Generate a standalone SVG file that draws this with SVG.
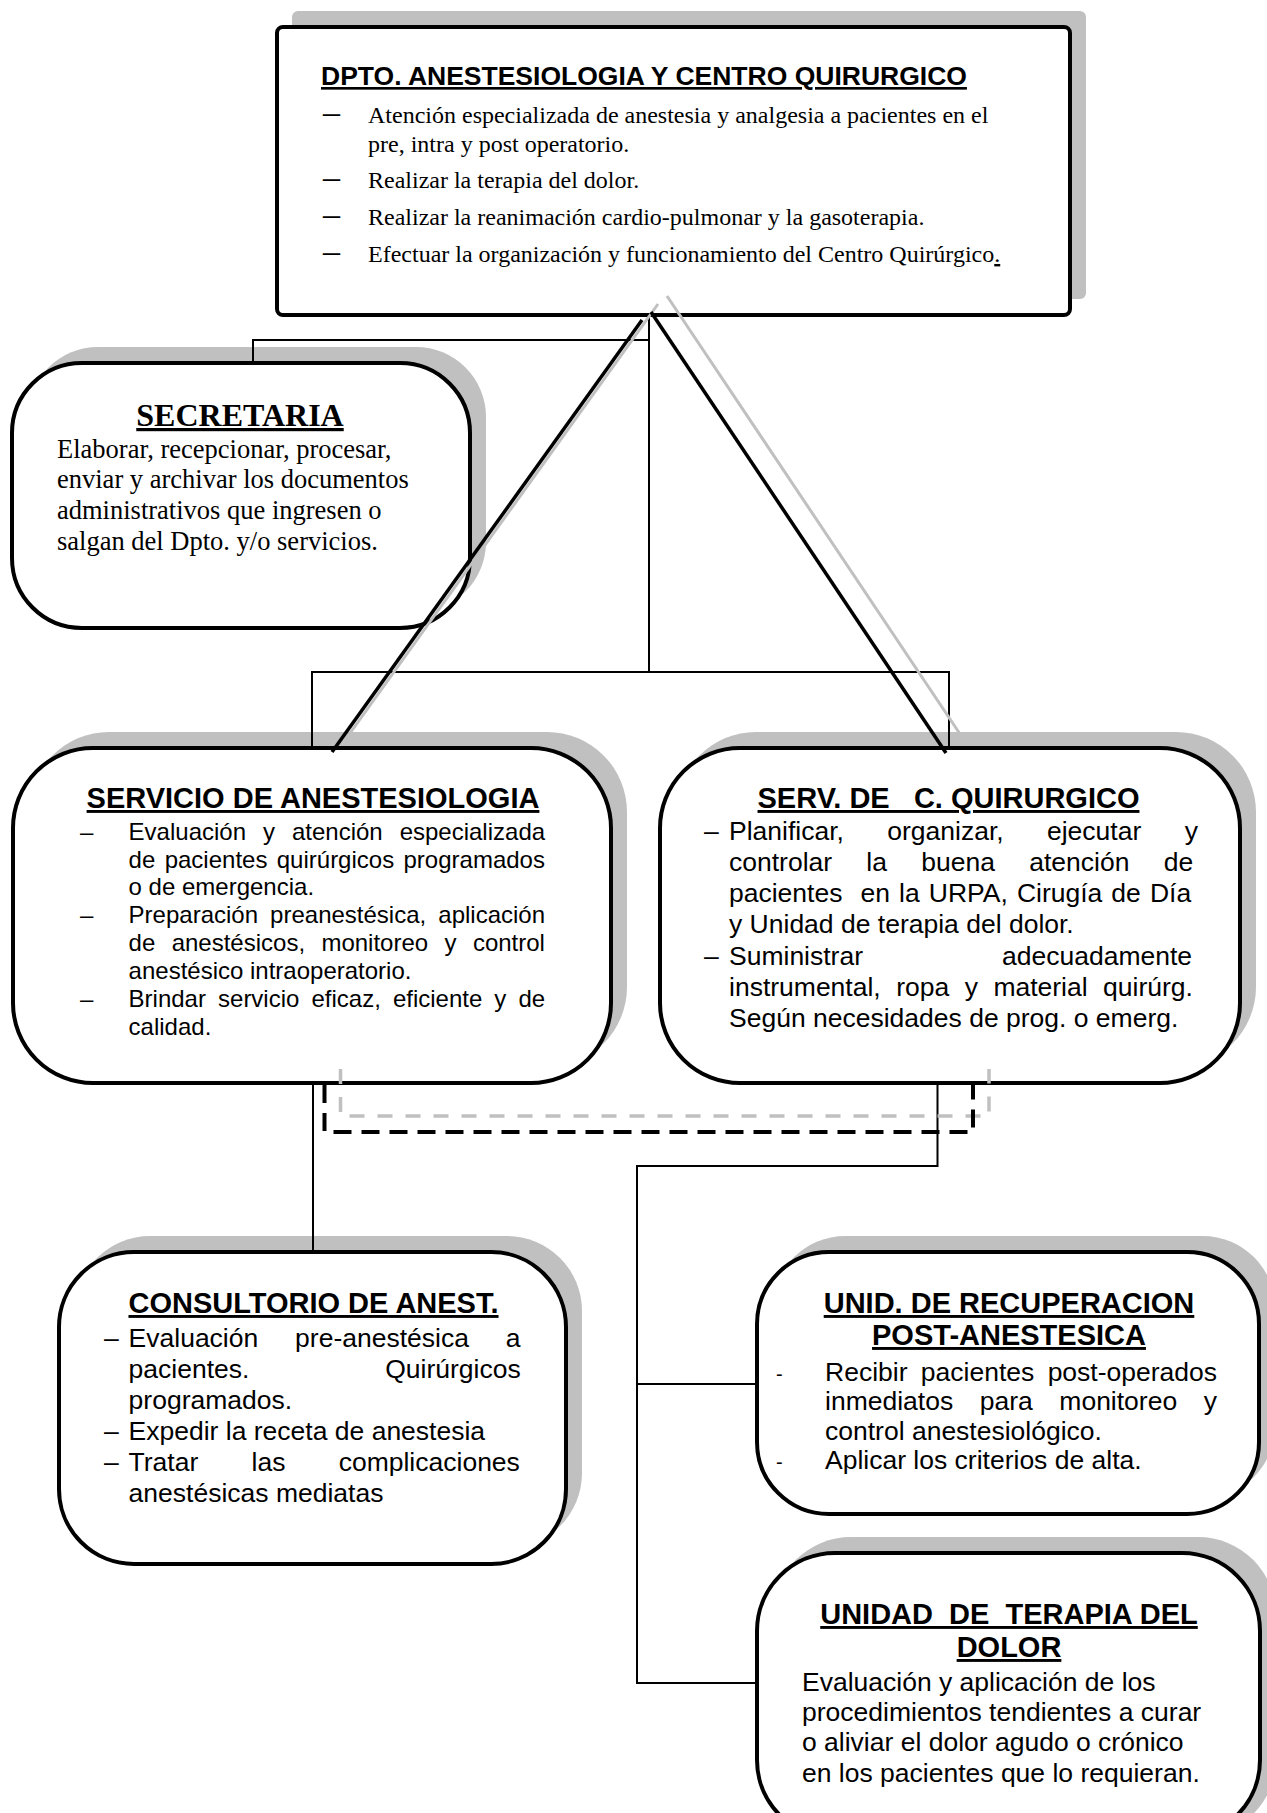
<svg xmlns="http://www.w3.org/2000/svg" width="1267" height="1813" viewBox="0 0 1267 1813">
<style>
.bg{fill:#fff}
.sh{fill:#c0c0c0}
.box{fill:#fff;stroke:#000;stroke-width:4}
.sans{font-family:"Liberation Sans",Arial,sans-serif;fill:#000}
.serif{font-family:"Liberation Serif","Times New Roman",serif;fill:#000}
.ttl{font-weight:bold;text-decoration:underline}
.t29{font-size:29px}
.s24{font-size:24px}
.s265{font-size:26.5px}
.ln{fill:none;stroke:#000;stroke-width:2}
.diag{fill:none;stroke:#000;stroke-width:3.5}
.gdiag{fill:none;stroke:#c0c0c0;stroke-width:3}
.dash{fill:none;stroke:#000;stroke-width:4;stroke-dasharray:18 10}
.gdash{fill:none;stroke:#c0c0c0;stroke-width:3.5;stroke-dasharray:15 13}
</style>
<rect class="bg" x="0" y="0" width="1267" height="1813"/>

<g id="dpto">
<rect class="sh" x="292" y="11" width="794" height="288" rx="6"/>
<rect class="box" x="277" y="27" width="793" height="288" rx="6"/>
<text class="sans ttl" x="321" y="85" font-size="26.5">DPTO. ANESTESIOLOGIA Y CENTRO QUIRURGICO</text>
<g class="serif" font-size="34">
<text x="323" y="123">–</text>
<text x="323" y="188">–</text>
<text x="323" y="225">–</text>
<text x="323" y="262">–</text>
</g>
<g class="serif" font-size="24">
<text x="368" y="123">Atención especializada de anestesia y analgesia a pacientes en el</text>
<text x="368" y="152">pre, intra y post operatorio.</text>
<text x="368" y="188">Realizar la terapia del dolor.</text>
<text x="368" y="225">Realizar la reanimación cardio-pulmonar y la gasoterapia.</text>
<text x="368" y="262">Efectuar la organización y funcionamiento del Centro Quirúrgico<tspan text-decoration="underline">.</tspan></text>
</g>
</g>

<g id="secretaria">
<rect class="sh" x="28" y="347" width="458" height="265" rx="70"/>
<rect class="box" x="12" y="363" width="458" height="265" rx="70"/>
<text class="serif ttl" x="240" y="426" font-size="32" text-anchor="middle">SECRETARIA</text>
<g class="serif" font-size="26.5">
<text x="57" y="458">Elaborar, recepcionar, procesar,</text>
<text x="57" y="488">enviar y archivar los documentos</text>
<text x="57" y="519">administrativos que ingresen o</text>
<text x="57" y="550">salgan del Dpto. y/o servicios.</text>
</g>
</g>

<g id="serv-anestesiologia">
<rect class="sh" x="29" y="732" width="598" height="335" rx="80"/>
<rect class="box" x="13" y="748" width="598" height="335" rx="80"/>
<text class="sans ttl t29" x="313" y="808" text-anchor="middle">SERVICIO DE ANESTESIOLOGIA</text>
<g class="sans s24">
<text x="80" y="840">–</text>
<text x="80" y="923">–</text>
<text x="80" y="1007">–</text>
<text x="128.6" y="840" word-spacing="10.3">Evaluación y atención especializada</text>
<text x="128.6" y="868" word-spacing="2.7">de pacientes quirúrgicos programados</text>
<text x="128.6" y="895">o de emergencia.</text>
<text x="128.6" y="923" word-spacing="5.45">Preparación preanestésica, aplicación</text>
<text x="128.6" y="951" word-spacing="9.7">de anestésicos, monitoreo y control</text>
<text x="128.6" y="979">anestésico intraoperatorio.</text>
<text x="128.6" y="1007" word-spacing="5.4">Brindar servicio eficaz, eficiente y de</text>
<text x="128.6" y="1035">calidad.</text>
</g>
</g>

<g id="serv-c-quirurgico">
<rect class="sh" x="676" y="732" width="580" height="335" rx="80"/>
<rect class="box" x="660" y="748" width="580" height="335" rx="80"/>
<text class="sans ttl t29" x="948.5" y="808" text-anchor="middle">SERV. DE&#160;&#160; C. QUIRURGICO</text>
<g class="sans s265">
<text x="704" y="840">–</text>
<text x="704" y="965">–</text>
<text x="729" y="840" word-spacing="36">Planificar, organizar, ejecutar y</text>
<text x="729" y="871" word-spacing="26.9">controlar la buena atención de</text>
<text x="729" y="902" word-spacing="1.7">pacientes&#160; en la URPA, Cirugía de Día</text>
<text x="729" y="933">y Unidad de terapia del dolor.</text>
<text x="729" y="965" word-spacing="131.6">Suministrar adecuadamente</text>
<text x="729" y="996" word-spacing="8.1">instrumental, ropa y material quirúrg.</text>
<text x="729" y="1027">Según necesidades de prog. o emerg.</text>
</g>
</g>

<g id="consultorio">
<rect class="sh" x="75" y="1236" width="507" height="312" rx="75"/>
<rect class="box" x="59" y="1252" width="507" height="312" rx="75"/>
<text class="sans ttl t29" x="313.5" y="1313" text-anchor="middle">CONSULTORIO DE ANEST.</text>
<g class="sans s265">
<text x="104" y="1347">–</text>
<text x="104" y="1440">–</text>
<text x="104" y="1471">–</text>
<text x="128.6" y="1347" word-spacing="29.5">Evaluación pre-anestésica a</text>
<text x="128.6" y="1378" word-spacing="128.4">pacientes. Quirúrgicos</text>
<text x="128.6" y="1409">programados.</text>
<text x="128.6" y="1440">Expedir la receta de anestesia</text>
<text x="128.6" y="1471" word-spacing="45.9">Tratar las complicaciones</text>
<text x="128.6" y="1502">anestésicas mediatas</text>
</g>
</g>

<g id="unid-recuperacion">
<rect class="sh" x="773" y="1236" width="502" height="262" rx="72"/>
<rect class="box" x="757" y="1252" width="502" height="262" rx="72"/>
<text class="sans ttl t29" x="1009" y="1313" text-anchor="middle">UNID. DE RECUPERACION</text>
<text class="sans ttl t29" x="1009" y="1345" text-anchor="middle">POST-ANESTESICA</text>
<g class="sans" font-size="20">
<text x="776" y="1381">-</text>
<text x="776" y="1469">-</text>
</g>
<g class="sans s265">
<text x="825" y="1381" word-spacing="6">Recibir pacientes post-operados</text>
<text x="825" y="1410" word-spacing="19.2">inmediatos para monitoreo y</text>
<text x="825" y="1440">control anestesiológico.</text>
<text x="825" y="1469">Aplicar los criterios de alta.</text>
</g>
</g>

<g id="unidad-terapia-dolor">
<rect class="sh" x="773" y="1537" width="503" height="300" rx="78"/>
<rect class="box" x="757" y="1553" width="503" height="285" rx="78"/>
<text class="sans ttl t29" x="1009" y="1624" text-anchor="middle">UNIDAD&#160; DE&#160; TERAPIA DEL</text>
<text class="sans ttl t29" x="1009" y="1657" text-anchor="middle">DOLOR</text>
<g class="sans s265">
<text x="802" y="1691">Evaluación y aplicación de los</text>
<text x="802" y="1721">procedimientos tendientes a curar</text>
<text x="802" y="1751">o aliviar el dolor agudo o crónico</text>
<text x="802" y="1782">en los pacientes que lo requieran.</text>
</g>
</g>

<g id="connectors">
<polyline class="ln" points="253,362 253,340 649,340"/>
<line class="ln" x1="649" y1="314" x2="649" y2="672"/>
<polyline class="ln" points="312,748 312,672 949,672 949,748"/>
<line class="ln" x1="313" y1="1083" x2="313" y2="1252"/>
<polyline class="ln" points="937.5,1083 937.5,1166 637,1166 637,1683 757,1683"/>
<line class="ln" x1="637" y1="1384" x2="757" y2="1384"/>
<line class="gdiag" x1="658" y1="304" x2="348" y2="736"/>
<line class="gdiag" x1="667" y1="296" x2="962" y2="737"/>
<line class="diag" x1="642" y1="320" x2="332" y2="752"/>
<line class="diag" x1="651" y1="312" x2="946" y2="753"/>
<polyline class="gdash" points="340.5,1069 340.5,1116 989,1116 989,1069"/>
<polyline class="dash" points="324.5,1085 324.5,1132 973,1132 973,1085"/>
</g>
</svg>
